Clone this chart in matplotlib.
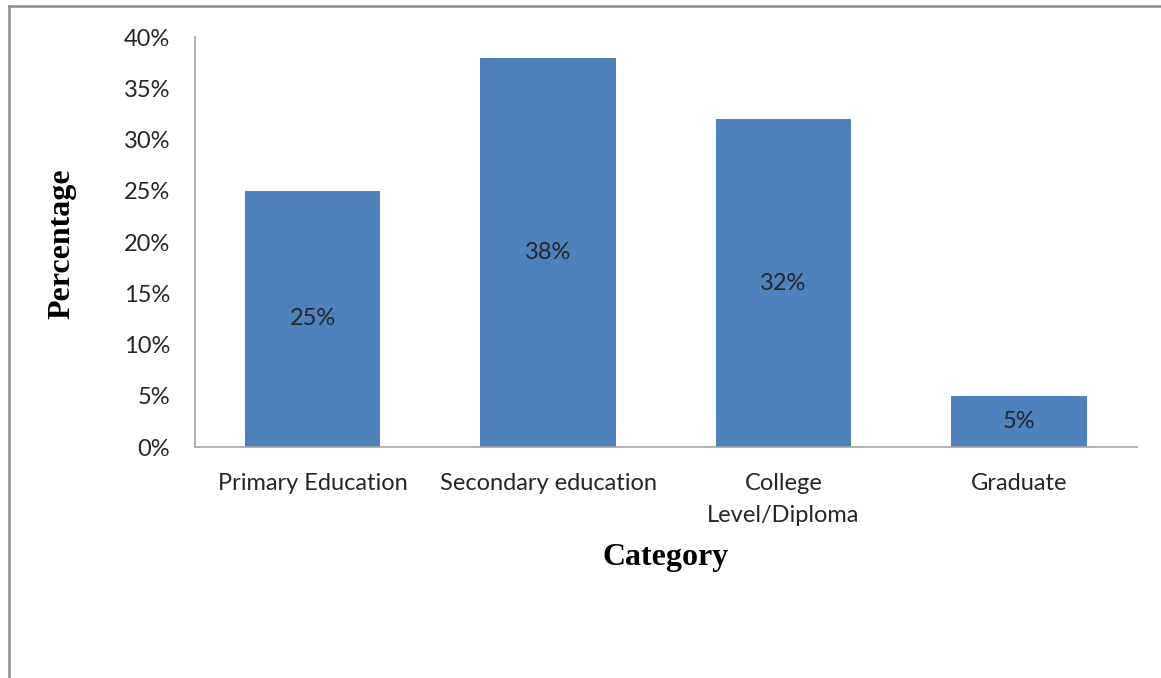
import matplotlib
matplotlib.use("Agg")
import matplotlib.pyplot as plt
from matplotlib.lines import Line2D
from matplotlib.ticker import FuncFormatter

# ── data ──────────────────────────────────────────────────────────────────────
categories = ["Primary Education", "Secondary education", "College\nLevel/Diploma", "Graduate"]
values = [25, 38, 32, 5]
y_ticks = [0, 5, 10, 15, 20, 25, 30, 35, 40]

BAR_COLOR = "#4f81bd"
SPINE_COLOR = "#a6a6a6"
TEXT_COLOR = "#262626"
FS = 17

fig = plt.figure(figsize=(11.61, 6.78), dpi=100)
ax = fig.add_axes([0.168, 0.3407, 0.811, 0.6047])

x = range(len(categories))
bars = ax.bar(x, values, width=0.575, color=BAR_COLOR)

# value labels centred inside each bar
for b, v in zip(bars, values):
    ax.text(b.get_x() + b.get_width() / 2, v / 2, f"{v}%",
            ha="center", va="center", fontsize=FS, family="Lato", color=TEXT_COLOR)

ax.set_xlim(-0.5, len(categories) - 0.5)
ax.set_ylim(0, 40)
ax.set_yticks(y_ticks)
ax.yaxis.set_major_formatter(FuncFormatter(lambda v, _: f"{v:.0f}%"))
ax.set_xticks(list(x))
ax.set_xticklabels(categories, fontsize=FS, family="Lato", color=TEXT_COLOR, linespacing=1.6)
for lab in ax.get_yticklabels():
    lab.set_fontsize(FS)
    lab.set_family("Lato")
    lab.set_color(TEXT_COLOR)

ax.tick_params(axis="both", length=0)
ax.tick_params(axis="y", pad=18)
ax.tick_params(axis="x", pad=19)

for side in ("top", "right"):
    ax.spines[side].set_visible(False)
for side in ("left", "bottom"):
    ax.spines[side].set_color(SPINE_COLOR)
    ax.spines[side].set_linewidth(1.2)

fig.text(0.0534, 0.641, "Percentage", rotation=90, ha="center", va="center",
         fontsize=23, fontweight="bold", family="Liberation Serif", color="black")
fig.text(0.573, 0.178, "Category", ha="center", va="center",
         fontsize=23, fontweight="bold", family="Liberation Serif", color="black")

# chart-area frame: only left and top edges visible
fig.add_artist(Line2D([0.0075, 0.0075], [0.0, 0.991], transform=fig.transFigure,
                      color="#8c8c8c", linewidth=1.8))
fig.add_artist(Line2D([0.0075, 1.0], [0.991, 0.991], transform=fig.transFigure,
                      color="#8c8c8c", linewidth=1.8))

fig.savefig("out.png", dpi=100)
